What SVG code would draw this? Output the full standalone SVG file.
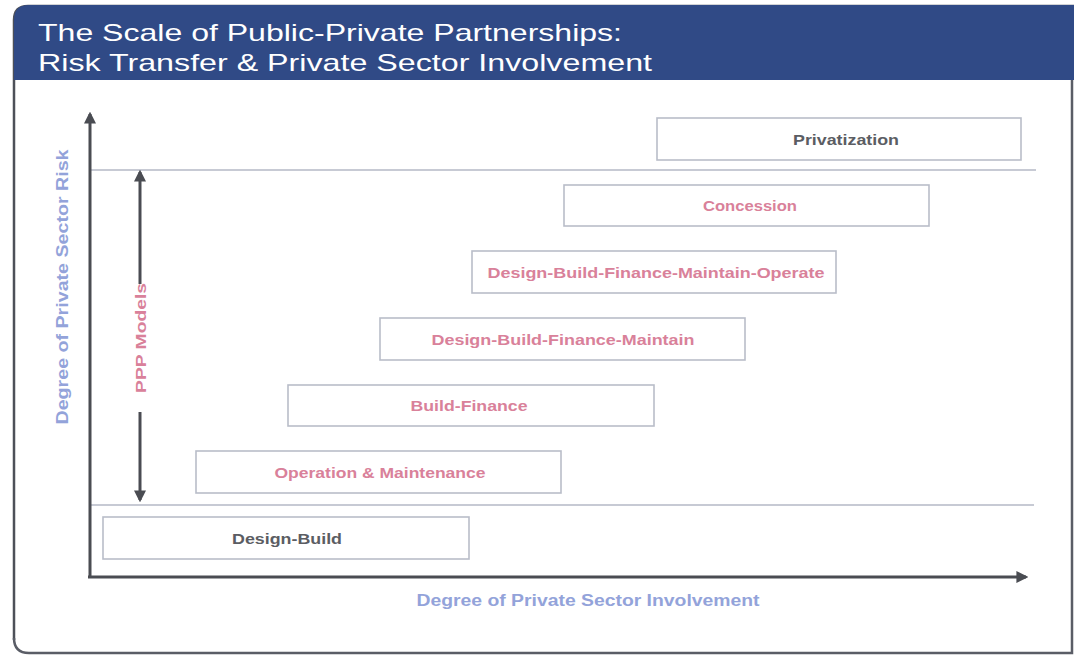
<svg xmlns="http://www.w3.org/2000/svg" width="1074" height="656" viewBox="0 0 1074 656">
<defs>
<style>
.box{fill:#fff;stroke:#b9bdc9;stroke-width:1.6}
.lbl{font-family:"Liberation Sans",Arial,sans-serif;font-weight:bold;font-size:15px;text-anchor:middle}
.pink{fill:#d9819a}
.grey{fill:#5b5d63}
.axl{font-family:"Liberation Sans",Arial,sans-serif;font-weight:bold;font-size:16px;fill:#93a3da;text-anchor:middle}
.ax{stroke:#4a4c52;stroke-width:3;fill:none}
.sep{stroke:#b5b9c6;stroke-width:1.5}
.title{font-family:"Liberation Sans",Arial,sans-serif;font-size:24px;fill:#fff}
</style>
<marker id="ah" viewBox="0 0 10 10" refX="8" refY="5" markerWidth="4" markerHeight="4" orient="auto-start-reverse" markerUnits="strokeWidth">
<path d="M0,0 L10,5 L0,10 z" fill="#4a4c52"/>
</marker>
</defs>
<rect x="0" y="0" width="1074" height="656" fill="#fff"/>
<path d="M14,640 L14,20 Q14,6 28,6 L1074,6" fill="none" stroke="#4d5058" stroke-width="2.5"/>
<path d="M14,638 Q14,653 29,653 L1072,653 L1072,80" fill="none" stroke="#5a5d66" stroke-width="2.5"/>
<path d="M14,80 L14,20 Q14,5 29,5 L1074,5 L1074,80 Z" fill="#304a86"/>
<text class="title" x="38" y="41" textLength="584" lengthAdjust="spacingAndGlyphs">The Scale of Public-Private Partnerships:</text>
<text class="title" x="38" y="71" textLength="614" lengthAdjust="spacingAndGlyphs">Risk Transfer &amp; Private Sector Involvement</text>

<g id="connectors">
<line class="sep" x1="90" y1="170" x2="1036" y2="170"/>
<line class="sep" x1="90" y1="505" x2="1034" y2="505"/>
<line class="ax" x1="90" y1="578" x2="90" y2="114" marker-end="url(#ah)"/>
<line class="ax" x1="88" y1="577" x2="1026" y2="577" marker-end="url(#ah)"/>
<line class="ax" x1="140" y1="284" x2="140" y2="172" marker-end="url(#ah)"/>
<line class="ax" x1="140" y1="412" x2="140" y2="500" marker-end="url(#ah)"/>
</g>

<text class="axl" transform="translate(68,287) rotate(-90)" textLength="275" lengthAdjust="spacingAndGlyphs">Degree of Private Sector Risk</text>
<text class="axl" x="588" y="606" textLength="343" lengthAdjust="spacingAndGlyphs">Degree of Private Sector Involvement</text>
<text class="lbl pink" transform="translate(146,338) rotate(-90)" textLength="110" lengthAdjust="spacingAndGlyphs">PPP Models</text>

<g id="privatization"><rect class="box" x="657" y="118" width="364" height="42"/><text class="lbl grey" x="846" y="145" textLength="106" lengthAdjust="spacingAndGlyphs">Privatization</text></g>
<g id="concession"><rect class="box" x="564" y="185" width="365" height="41"/><text class="lbl pink" x="750" y="211" textLength="94" lengthAdjust="spacingAndGlyphs">Concession</text></g>
<g id="dbfmo"><rect class="box" x="472" y="251" width="364" height="42"/><text class="lbl pink" x="656" y="278" textLength="337" lengthAdjust="spacingAndGlyphs">Design-Build-Finance-Maintain-Operate</text></g>
<g id="dbfm"><rect class="box" x="380" y="318" width="365" height="42"/><text class="lbl pink" x="563" y="345" textLength="263" lengthAdjust="spacingAndGlyphs">Design-Build-Finance-Maintain</text></g>
<g id="bf"><rect class="box" x="288" y="385" width="366" height="41"/><text class="lbl pink" x="469" y="411" textLength="117" lengthAdjust="spacingAndGlyphs">Build-Finance</text></g>
<g id="om"><rect class="box" x="196" y="451" width="365" height="42"/><text class="lbl pink" x="380" y="478" textLength="211" lengthAdjust="spacingAndGlyphs">Operation &amp; Maintenance</text></g>
<g id="db"><rect class="box" x="103" y="517" width="366" height="42"/><text class="lbl grey" x="287" y="544" textLength="110" lengthAdjust="spacingAndGlyphs">Design-Build</text></g>
</svg>
